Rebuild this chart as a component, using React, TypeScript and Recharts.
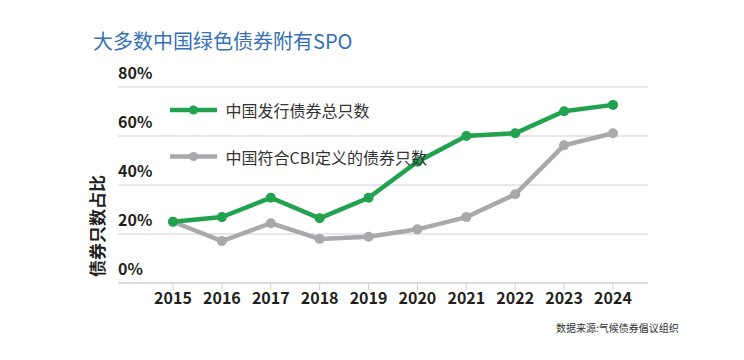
import React from 'react';
import { LineChart, Line, XAxis, YAxis, CartesianGrid } from 'recharts';

const years = ['2015', '2016', '2017', '2018', '2019', '2020', '2021', '2022', '2023', '2024'];
const totalBonds = [25.0, 26.9, 34.8, 26.4, 34.8, 49.5, 60.0, 61.1, 70.1, 72.7];
const cbiBonds = [25.0, 17.1, 24.4, 18.0, 18.9, 21.9, 26.9, 36.2, 56.2, 61.1];
const yTicks = [0, 20, 40, 60, 80];

const title = '大多数中国绿色债券附有SPO';
const yTitle = '债券只数占比';
const source = '数据来源:气候债券倡议组织';

const series = [
  { key: 'total', name: '中国发行债券总只数', color: '#21a24f' },
  { key: 'cbi', name: '中国符合CBI定义的债券只数', color: '#a9a9ab' },
];

const data = years.map((y, i) => ({ year: y, total: totalBonds[i], cbi: cbiBonds[i] }));

const FONT = '"Noto Sans CJK SC", "Noto Sans", sans-serif';
const GRID = '#cfd0d6';
const PLOT_LEFT = 118;

const YTick = (props: any) => {
  const { y, payload } = props;
  return (
    <text x={PLOT_LEFT} y={y - 15} textAnchor="start" dominantBaseline="central"
      fontFamily={FONT} fontSize={16} fontWeight={700} fill="#231f20">
      {payload.value}%
    </text>
  );
};

export default function App() {
  const drawOrder = [...series].reverse();
  return (
    <div style={{ position: 'absolute', left: 0, top: 0, width: 744, height: 360, background: '#fff' }}>
      <LineChart width={744} height={360} data={data}
        margin={{ top: 87, right: 96, left: PLOT_LEFT - 20, bottom: 47 }}>
        <CartesianGrid horizontal vertical={false} stroke={GRID} strokeWidth={1} />
        <XAxis dataKey="year" height={30} padding={{ left: 55, right: 35 }}
          axisLine={{ stroke: GRID }} tickLine={{ stroke: GRID }} tickSize={7} tickMargin={3}
          interval={0}
          tick={{ fontFamily: FONT, fontSize: 16, fontWeight: 700, fill: '#231f20' }} />
        <YAxis width={20} domain={[0, 80]} ticks={yTicks} axisLine={false} tickLine={false}
          tick={<YTick />} interval={0} />
        {drawOrder.map((s) => (
          <Line key={s.key} type="linear" dataKey={s.key} name={s.name} stroke={s.color}
            strokeWidth={4.5} dot={{ r: 5, fill: s.color, stroke: s.color, strokeWidth: 0 }}
            activeDot={false} isAnimationActive={false} />
        ))}
      </LineChart>
      <svg width={744} height={360} style={{ position: 'absolute', left: 0, top: 0, pointerEvents: 'none' }}>
        <text x={93} y={40} dominantBaseline="central" fontFamily={FONT} fontSize={20}
          fontWeight={400} fill="#3570b8">{title}</text>
        <text x={96} y={226} transform="rotate(-90 96 226)" textAnchor="middle" dominantBaseline="central"
          fontFamily={FONT} fontSize={17} fontWeight={700} fill="#231f20">{yTitle}</text>
        {series.map((s, i) => {
          const cy = 110 + i * 46.5;
          return (
            <g key={s.key}>
              <line x1={170} x2={217} y1={cy} y2={cy} stroke={s.color} strokeWidth={4.5} />
              <circle cx={193.5} cy={cy} r={4.5} fill={s.color} />
              <text x={225.5} y={cy} dominantBaseline="central" fontFamily={FONT}
                fontSize={16} fill="#333">{s.name}</text>
            </g>
          );
        })}
        <text x={556} y={327} dominantBaseline="central" fontFamily={FONT} fontSize={10}
          fill="#333">{source}</text>
      </svg>
    </div>
  );
}
